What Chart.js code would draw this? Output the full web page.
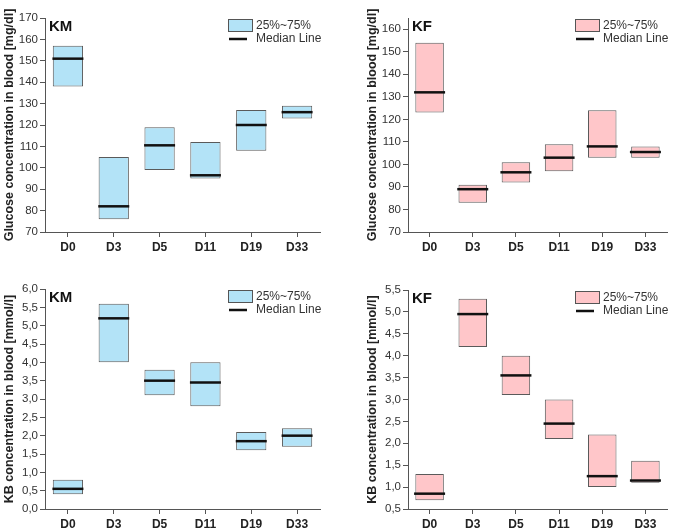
<!DOCTYPE html>
<html>
<head>
<meta charset="utf-8">
<script src="https://cdn.jsdelivr.net/npm/chart.js@4/dist/chart.umd.min.js"></script>
<style>
  body { margin: 0; background: #fff; }
  #wrap { position: relative; width: 685px; height: 532px; }
  canvas { position: absolute; }
</style>
</head>
<body>
<div id="wrap">
  <canvas id="kmGlucose" width="340" height="266" style="left:0;top:0"></canvas>
  <canvas id="kfGlucose" width="345" height="266" style="left:340px;top:0"></canvas>
  <canvas id="kmKb" width="340" height="266" style="left:0;top:266px"></canvas>
  <canvas id="kfKb" width="345" height="266" style="left:340px;top:266px"></canvas>
</div>
<script>
var days = ['D0', 'D3', 'D5', 'D11', 'D19', 'D33'];

// glucose [mg/dl]
var kmGluLow    = [138, 76, 99, 95, 108, 123];
var kmGluHigh   = [157, 105, 119, 112, 127, 129];
var kmGluMedian = [151, 82, 110.5, 96.5, 120, 126];

var kfGluLow    = [123, 83, 92, 97, 103, 103];
var kfGluHigh   = [154, 91, 101, 109, 124, 108];
var kfGluMedian = [132, 89, 96.5, 103, 108, 105.5];

// ketone bodies [mmol/l]
var kmKbLow    = [0.4, 4.0, 3.1, 2.8, 1.6, 1.7];
var kmKbHigh   = [0.8, 5.6, 3.8, 4.0, 2.1, 2.2];
var kmKbMedian = [0.55, 5.2, 3.5, 3.45, 1.85, 2.0];

var kfKbLow    = [0.7, 4.2, 3.1, 2.1, 1.0, 1.1];
var kfKbHigh   = [1.3, 5.3, 4.0, 3.0, 2.2, 1.6];
var kfKbMedian = [0.85, 4.95, 3.55, 2.45, 1.25, 1.15];

var FONT = '"Liberation Sans", Arial, Helvetica, sans-serif';
var BLUE = '#b3e3f7';
var PINK = '#ffc6c9';

function boxLegend(tag, fill) {
    return {
        id: 'boxLegend',
        afterDraw: function (chart) {
            var c = chart.ctx, a = chart.chartArea;
            c.save();
            // panel tag
            c.fillStyle = '#111';
            c.font = 'bold 15px ' + FONT;
            c.textBaseline = 'middle';
            c.textAlign = 'left';
            c.fillText(tag, a.left + 4, a.top + 9);
            // legend
            var x = a.right - 92;
            c.fillStyle = fill;
            c.fillRect(x, a.top + 1, 24, 12);
            c.strokeStyle = '#555';
            c.lineWidth = 1;
            c.strokeRect(x + 0.5, a.top + 1.5, 24, 12);
            c.strokeStyle = '#111';
            c.lineWidth = 2.5;
            c.beginPath();
            c.moveTo(x + 1, a.top + 21);
            c.lineTo(x + 19, a.top + 21);
            c.stroke();
            c.fillStyle = '#333';
            c.font = '12px ' + FONT;
            c.fillText('25%~75%', x + 28, a.top + 7.5);
            c.fillText('Median Line', x + 28, a.top + 21);
            c.restore();
        }
    };
}

function makeChart(id, tag, fill, low, high, median, yMin, yMax, yTitle, comma, pad, xHeight) {
    var boxes = low.map(function (v, i) { return [v, high[i]]; });
    return new Chart(document.getElementById(id), {
        type: 'bar',
        data: {
            labels: days,
            datasets: [{
                label: '25%~75%',
                data: boxes,
                backgroundColor: fill,
                borderColor: '#5a5a5a',
                borderWidth: 1,
                borderSkipped: false,
                categoryPercentage: 1,
                barPercentage: 0.66,
                order: 2
            }, {
                type: 'line',
                label: 'Median Line',
                data: median,
                showLine: false,
                pointStyle: 'line',
                pointRadius: 15.5,
                pointBorderWidth: 2.5,
                pointBorderColor: '#111',
                order: 1
            }]
        },
        options: {
            responsive: false,
            animation: false,
            events: [],
            layout: { padding: pad },
            plugins: { legend: { display: false }, tooltip: { enabled: false } },
            scales: {
                x: {
                    offset: true,
                    grid: { offset: false, drawOnChartArea: false, tickLength: 5, color: '#555' },
                    border: { color: '#555' },
                    ticks: { color: '#222', padding: 3, font: { family: FONT, size: 12, weight: 'bold' } },
                    afterFit: function (s) { s.height = xHeight; }
                },
                y: {
                    min: yMin,
                    max: yMax,
                    grid: { drawOnChartArea: false, tickLength: 5, color: '#555' },
                    border: { color: '#555' },
                    ticks: {
                        stepSize: comma ? 0.5 : 10,
                        includeBounds: false,
                        color: '#333',
                        padding: 2,
                        font: { family: FONT, size: 11.5 },
                        callback: function (v) { return comma ? v.toFixed(1).replace('.', ',') : v; }
                    },
                    title: {
                        display: true,
                        text: yTitle,
                        color: '#222',
                        padding: 2,
                        font: { family: FONT, size: 12.5, weight: 'bold' }
                    },
                    afterFit: function (s) { s.width = 45; }
                }
            }
        },
        plugins: [boxLegend(tag, fill)]
    });
}

window.onload = function () {
    makeChart('kmGlucose', 'KM', BLUE, kmGluLow, kmGluHigh, kmGluMedian, 70, 170,
        'Glucose concentration in blood [mg/dl]', false, { left: 0, right: 20, top: 12, bottom: 0 }, 34);
    makeChart('kfGlucose', 'KF', PINK, kfGluLow, kfGluHigh, kfGluMedian, 70, 165,
        'Glucose concentration in blood [mg/dl]', false, { left: 23, right: 4, top: 12, bottom: 0 }, 34);
    makeChart('kmKb', 'KM', BLUE, kmKbLow, kmKbHigh, kmKbMedian, 0, 6,
        'KB concentration in blood [mmol/l]', true, { left: 0, right: 20, top: 23, bottom: 0 }, 23);
    makeChart('kfKb', 'KF', PINK, kfKbLow, kfKbHigh, kfKbMedian, 0.5, 5.5,
        'KB concentration in blood [mmol/l]', true, { left: 23, right: 4, top: 24, bottom: 0 }, 23);
};
</script>
</body>
</html>
